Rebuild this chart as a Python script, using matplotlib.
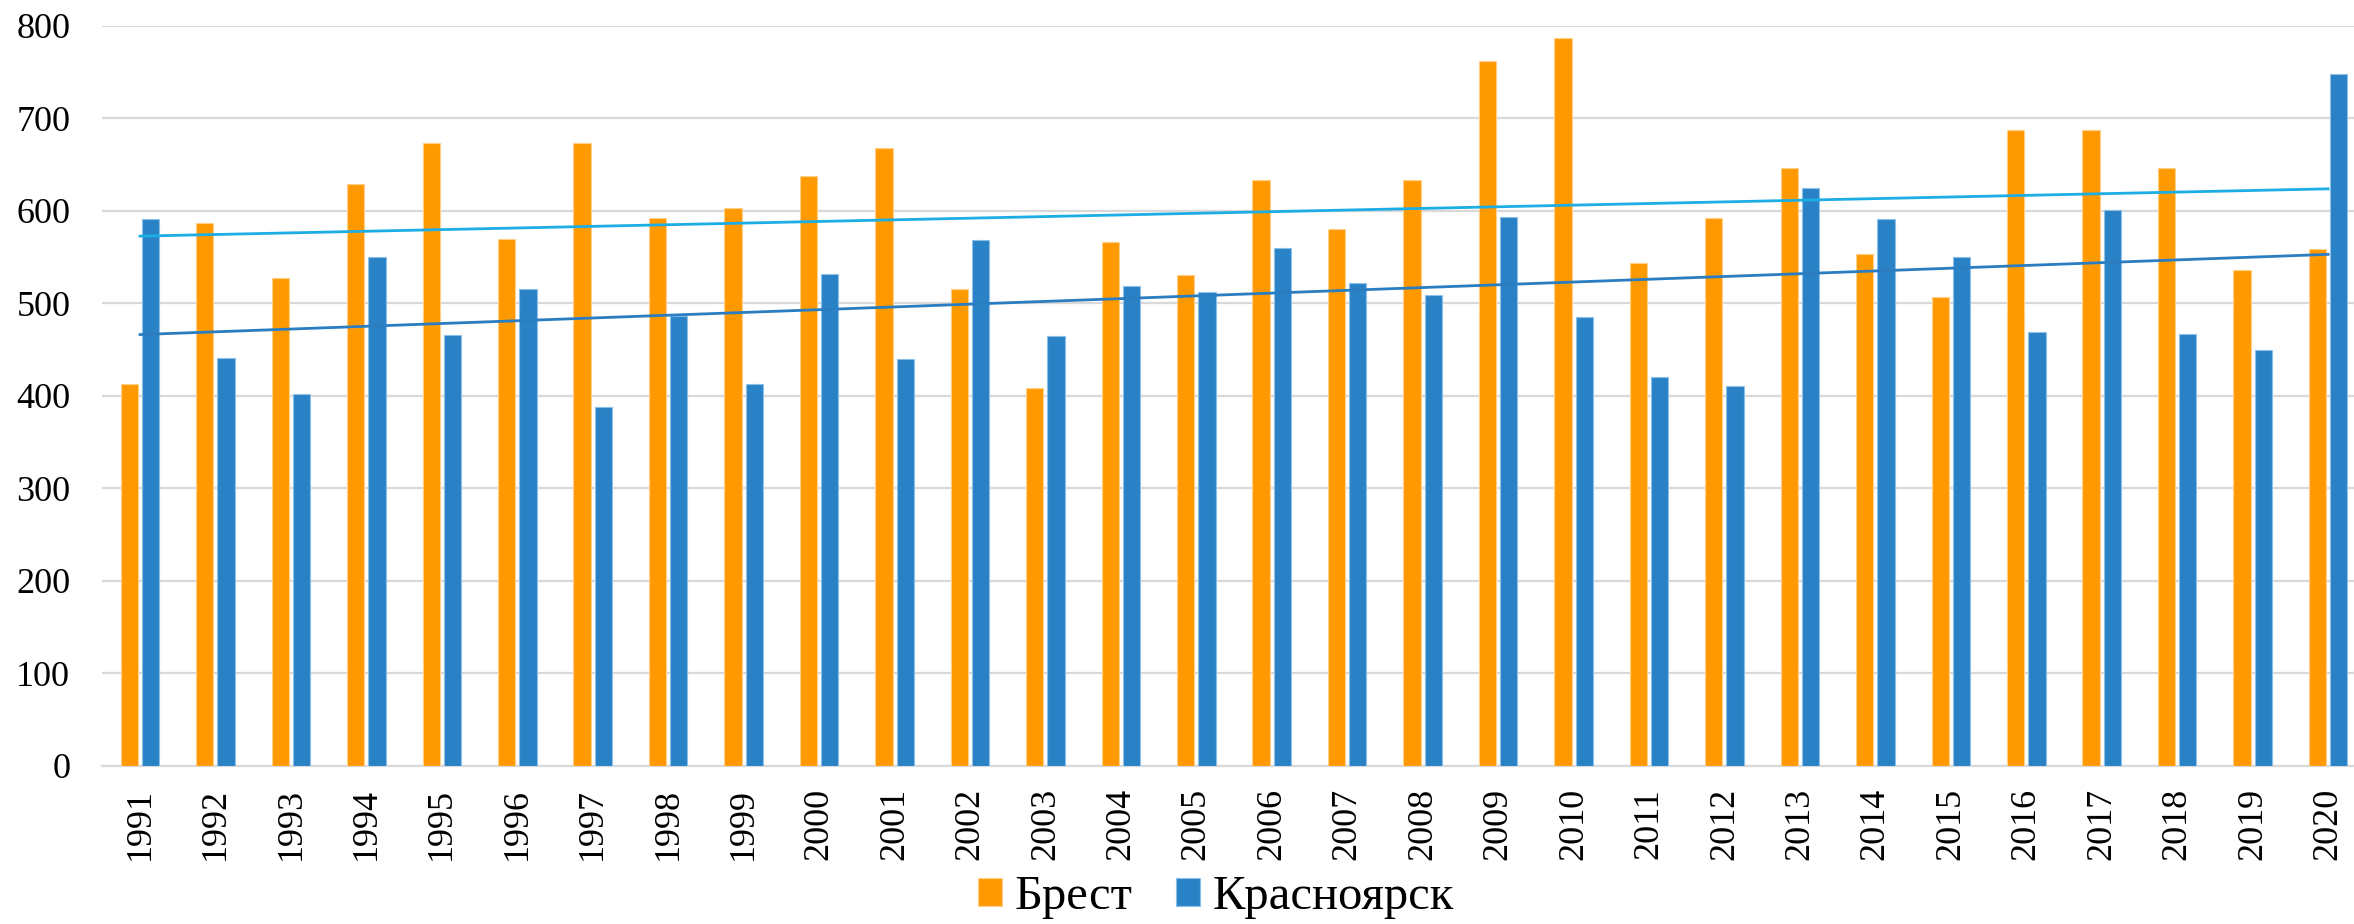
import numpy as np
import matplotlib
matplotlib.use("Agg")
import matplotlib.pyplot as plt

# data
years = [str(y) for y in range(1991, 2021)]
brest = [413, 587, 528, 629, 673, 570, 673, 592, 603, 638,
         668, 516, 409, 566, 531, 634, 580, 633, 762, 787,
         544, 592, 646, 554, 507, 688, 687, 646, 536, 559]
krasnoyarsk = [591, 441, 402, 550, 466, 516, 388, 486, 413, 532,
               440, 569, 465, 519, 512, 560, 522, 509, 593, 485,
               421, 411, 625, 591, 550, 469, 601, 467, 450, 748]

col_brest = "#FF9900"
col_krsk = "#2A82C6"
col_trend_brest = "#1CADE4"
col_trend_krsk = "#2A7DC0"

plt.rcParams["font.family"] = ["Liberation Serif", "DejaVu Serif"]

fig = plt.figure(figsize=(23.54, 9.24), dpi=100)
ax = fig.add_axes([0.04346, 0.171, 1.005 - 0.04346, 0.9719 - 0.171])

x = np.arange(len(years))
w = 0.229
off = 0.141
ax.bar(x - off, brest, width=w, color=col_brest, edgecolor="#FFD08A", linewidth=0.8,
       label="Брест", zorder=3)
ax.bar(x + off, krasnoyarsk, width=w, color=col_krsk, edgecolor="#8CC0E8", linewidth=0.8,
       label="Красноярск", zorder=3)

# linear trend lines
for vals, c in [(brest, col_trend_brest), (krasnoyarsk, col_trend_krsk)]:
    k, b = np.polyfit(x, vals, 1)
    ax.plot(x, k * x + b, color=c, linewidth=2.0, zorder=4)

ax.set_xlim(-0.5, len(years) - 0.5)
ax.set_ylim(0, 800)
ax.set_yticks(range(0, 801, 100))
ax.set_xticks(x)
ax.set_xticklabels(years, rotation=90)
ax.tick_params(axis="y", length=0, pad=23, labelsize=26)
ax.tick_params(axis="x", length=0, pad=16, labelsize=26)
ax.grid(axis="y", color="#D9D9D9", linewidth=1.6, zorder=0)
for s in ["top", "right", "left"]:
    ax.spines[s].set_visible(False)
ax.spines["bottom"].set_color("#D9D9D9")
ax.spines["bottom"].set_linewidth(1.6)

handles, labels = ax.get_legend_handles_labels()
fig.legend(handles, labels, loc="center", bbox_to_anchor=(1216 / 2354, 1 - 897 / 924),
           ncol=2, frameon=False, fontsize=35, handlelength=0.5, handleheight=0.5,
           handletextpad=0.25, columnspacing=0.9, borderpad=0)

fig.savefig("out.png", dpi=100)
